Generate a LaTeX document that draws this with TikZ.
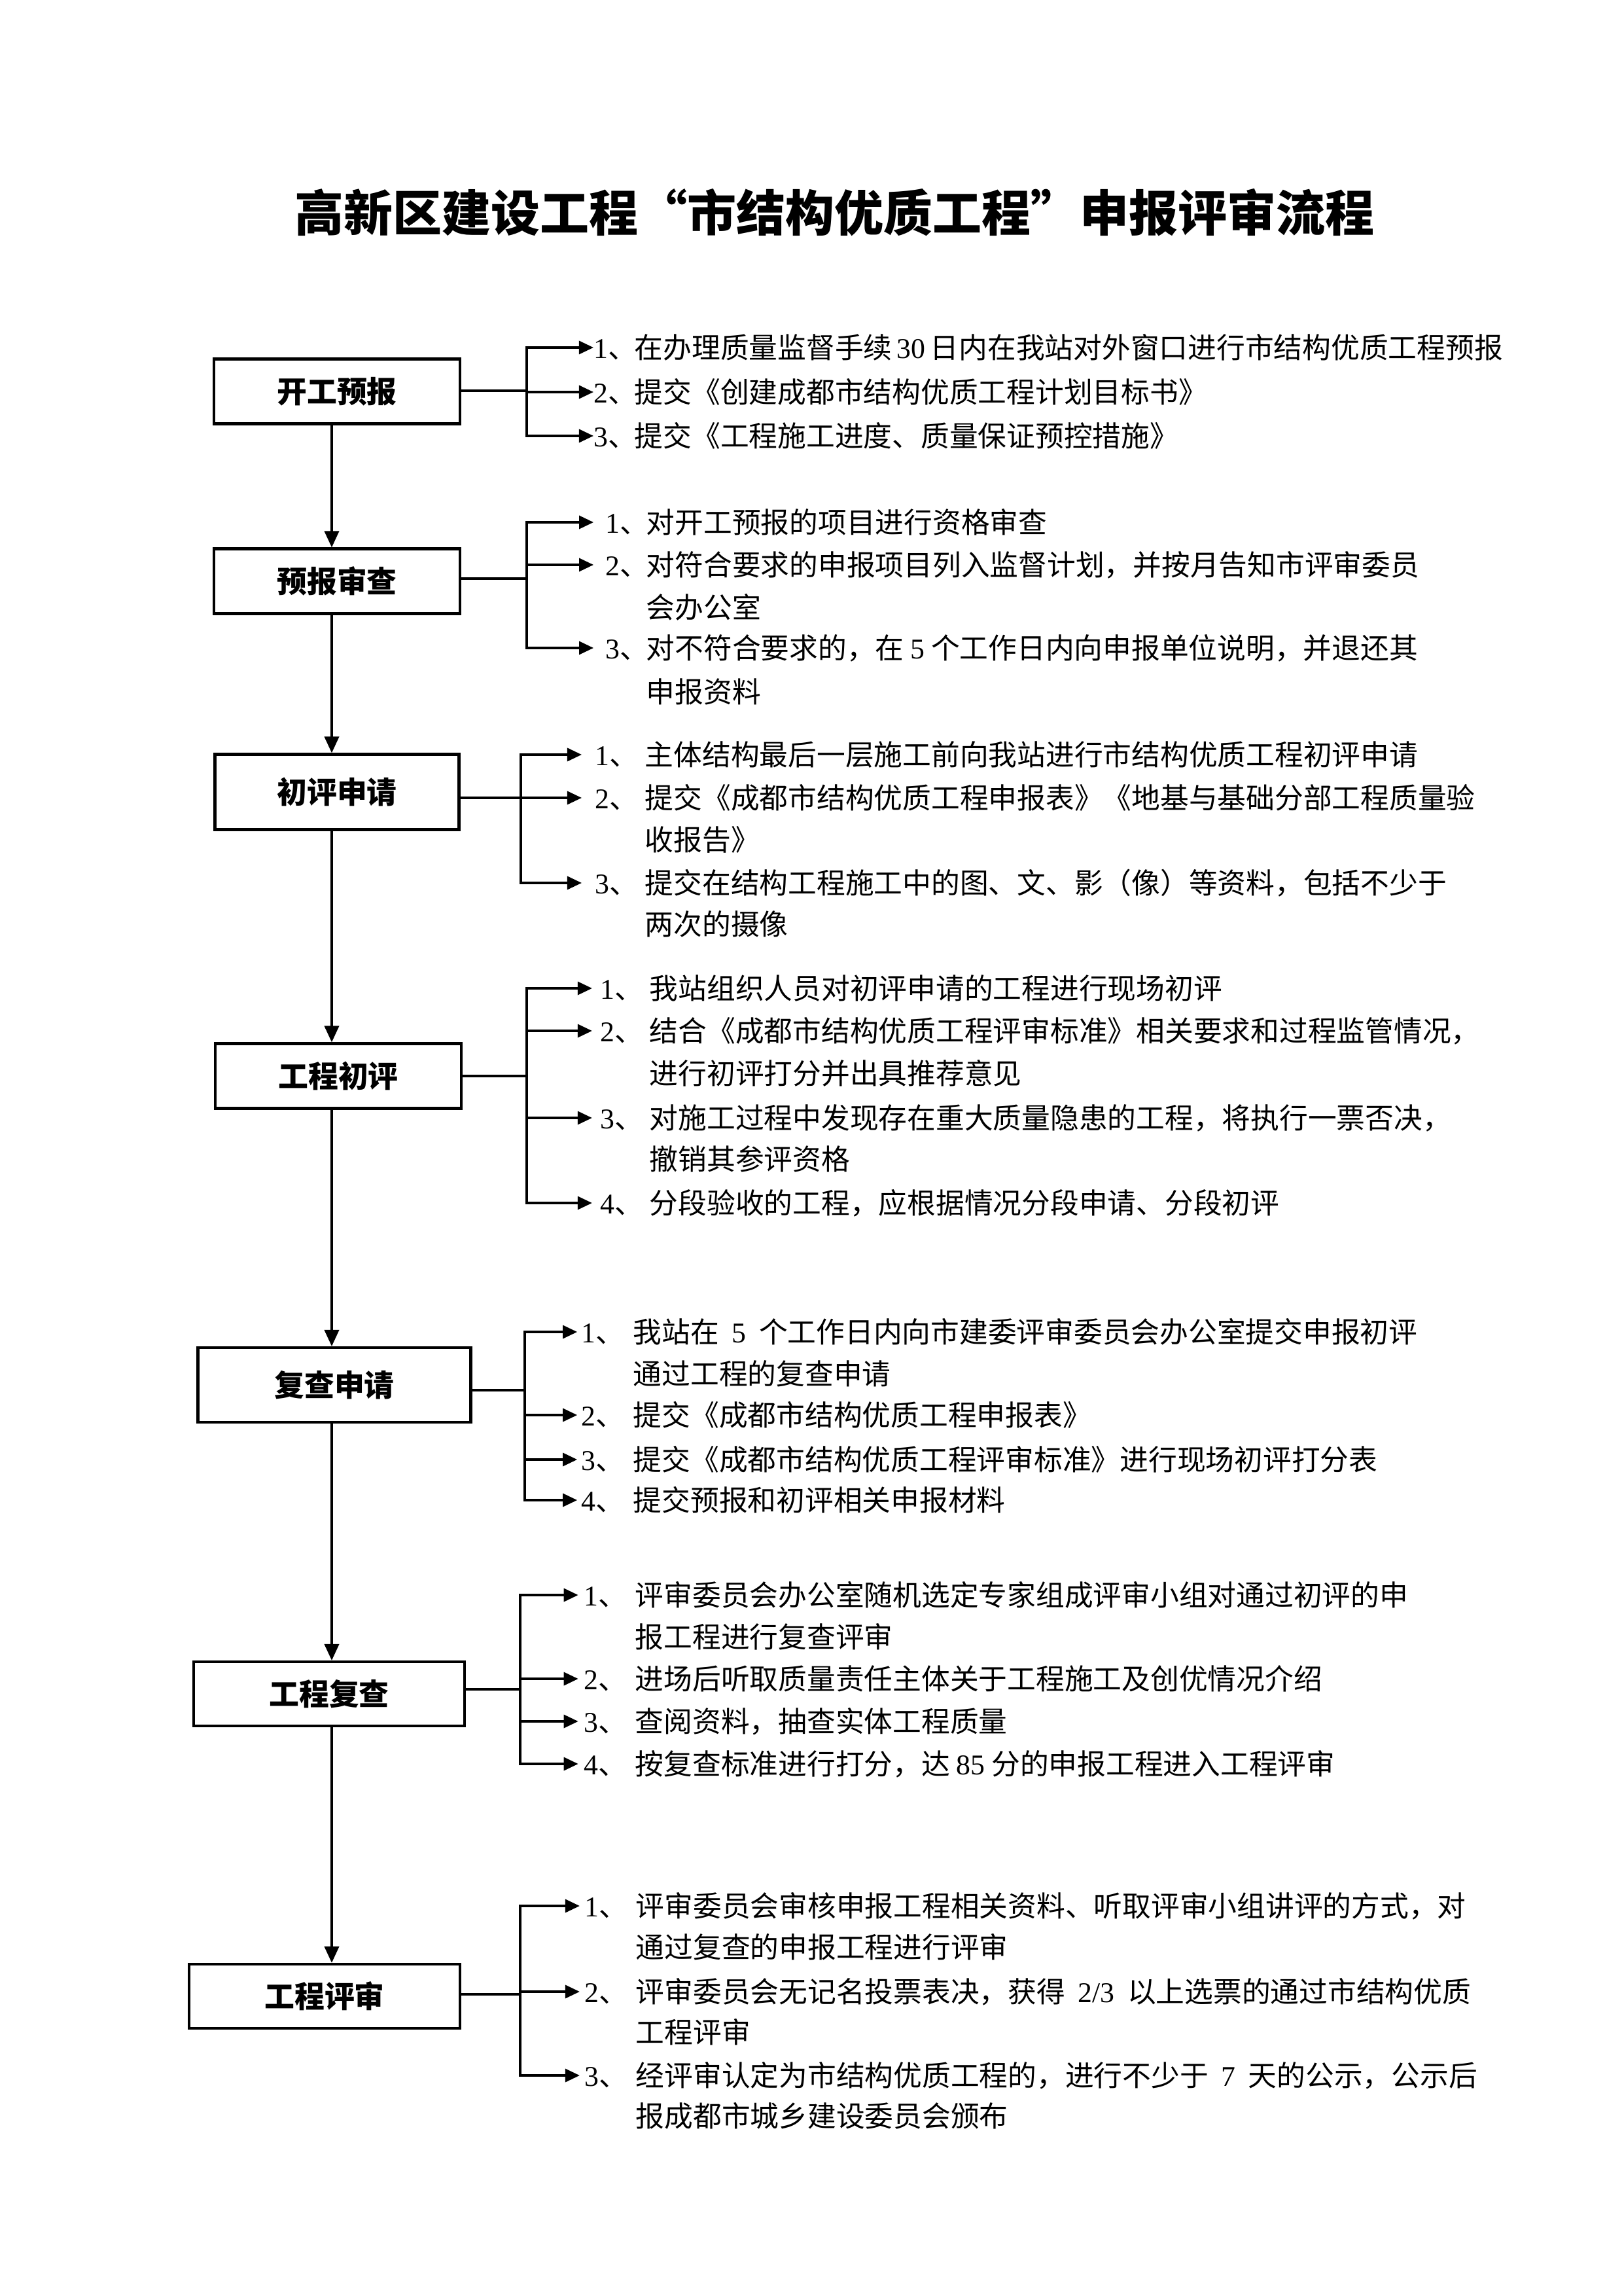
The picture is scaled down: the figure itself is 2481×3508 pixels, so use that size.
\documentclass[tikz,border=0pt]{standalone}
\usepackage{fontspec}
\setmainfont{Noto Sans CJK SC}
\newfontfamily\lf{Liberation Serif}
\newcommand\latn[1]{{\lf #1}}
\usetikzlibrary{arrows.meta}
\begin{document}
\begin{tikzpicture}[x=0.24pt,y=-0.24pt,
  box/.style={draw, line width=1pt, inner sep=0, font=\fontsize{11pt}{13pt}\selectfont\bfseries},
  ln/.style={line width=0.85pt},
  harr/.style={ln, -{Triangle[length=5.3pt,width=4.8pt]}},
  varr/.style={ln, -{Triangle[length=6pt,width=5.3pt]}},
  item/.style={inner sep=0, anchor=west, text height=9.2pt, text depth=1.3pt, font=\fontsize{10.5pt}{12pt}\selectfont},
  ttl/.style={inner sep=0, font=\fontsize{18pt}{20pt}\selectfont\bfseries}]
\useasboundingbox (0,0) rectangle (2481,3508);

\node[ttl] (title) at (1275,325) {高新区建设工程“市结构优质工程”申报评审流程};

% boxes
\node[box, minimum width=376*0.24pt, minimum height=99*0.24pt] (b1) at (515,598) {开工预报};
\node[box, minimum width=376*0.24pt, minimum height=99*0.24pt] (b2) at (515,888) {预报审查};
\node[box, minimum width=373*0.24pt, minimum height=115*0.24pt] (b3) at (515,1210) {初评申请};
\node[box, minimum width=376*0.24pt, minimum height=99*0.24pt] (b4) at (517,1644) {工程初评};
\node[box, minimum width=417*0.24pt, minimum height=114*0.24pt] (b5) at (511,2116) {复查申请};
\node[box, minimum width=414*0.24pt, minimum height=98*0.24pt] (b6) at (503,2588) {工程复查};
\node[box, minimum width=414*0.24pt, minimum height=98*0.24pt] (b7) at (496,3050) {工程评审};

% spine
\coordinate (spine) at (507,0);
\draw[varr] (b1.south -| spine) -- (b2.north -| spine);
\draw[varr] (b2.south -| spine) -- (b3.north -| spine);
\draw[varr] (b3.south -| spine) -- (b4.north -| spine);
\draw[varr] (b4.south -| spine) -- (b5.north -| spine);
\draw[varr] (b5.south -| spine) -- (b6.north -| spine);
\draw[varr] (b6.south -| spine) -- (b7.north -| spine);

% ---------- group 1
\coordinate (j1) at (805,597);
\draw[ln] (b1.east |- j1) -- (j1);
\node[item] (n11) at (907,531) {\latn{1}、};
\node[item] (t11) at (969,531) {在办理质量监督手续\,\latn{30}\,日内在我站对外窗口进行市结构优质工程预报};
\node[item] (n12) at (907,599) {\latn{2}、};
\node[item] (t12) at (969,599) {提交《创建成都市结构优质工程计划目标书》};
\node[item] (n13) at (907,666) {\latn{3}、};
\node[item] (t13) at (969,666) {提交《工程施工进度、质量保证预控措施》};
\foreach \k in {1,2,3} \draw[harr] (j1) |- (n1\k.west);

% ---------- group 2
\coordinate (j2) at (805,884);
\draw[ln] (b2.east |- j2) -- (j2);
\node[item] (n21) at (925,798) {\latn{1}、};
\node[item] (t21) at (987,798) {对开工预报的项目进行资格审查};
\node[item] (n22) at (925,863) {\latn{2}、};
\node[item] (t22) at (987,863) {对符合要求的申报项目列入监督计划，并按月告知市评审委员};
\node[item] (t22b) at (987,928) {会办公室};
\node[item] (n23) at (925,990) {\latn{3}、};
\node[item] (t23) at (987,990) {对不符合要求的，在 \latn{5} 个工作日内向申报单位说明，并退还其};
\node[item] (t23b) at (987,1057) {申报资料};
\foreach \k in {1,2,3} \draw[harr, shorten >=4.3pt] (j2) |- (n2\k.west);

% ---------- group 3
\coordinate (j3) at (796,1219);
\draw[ln] (b3.east |- j3) -- (j3);
\node[item] (n31) at (909,1153) {\latn{1}、};
\node[item] (t31) at (985,1153) {主体结构最后一层施工前向我站进行市结构优质工程初评申请};
\node[item] (n32) at (909,1219) {\latn{2}、};
\node[item] (t32) at (985,1219) {提交《成都市结构优质工程申报表》《地基与基础分部工程质量验};
\node[item] (t32b) at (985,1283) {收报告》};
\node[item] (n33) at (909,1349) {\latn{3}、};
\node[item] (t33) at (985,1349) {提交在结构工程施工中的图、文、影（像）等资料，包括不少于};
\node[item] (t33b) at (985,1412) {两次的摄像};
\foreach \k in {1,2,3} \draw[harr, shorten >=4.8pt] (j3) |- (n3\k.west);

% ---------- group 4
\coordinate (j4) at (805,1644);
\draw[ln] (b4.east |- j4) -- (j4);
\node[item] (n41) at (917,1510) {\latn{1}、};
\node[item] (t41) at (992,1510) {我站组织人员对初评申请的工程进行现场初评};
\node[item] (n42) at (917,1575) {\latn{2}、};
\node[item] (t42) at (992,1575) {结合《成都市结构优质工程评审标准》相关要求和过程监管情况，};
\node[item] (t42b) at (992,1640) {进行初评打分并出具推荐意见};
\node[item] (n43) at (917,1708) {\latn{3}、};
\node[item] (t43) at (992,1708) {对施工过程中发现存在重大质量隐患的工程，将执行一票否决，};
\node[item] (t43b) at (992,1771) {撤销其参评资格};
\node[item] (n44) at (917,1838) {\latn{4}、};
\node[item] (t44) at (992,1838) {分段验收的工程，应根据情况分段申请、分段初评};
\foreach \k in {1,2,3,4} \draw[harr, shorten >=2.9pt] (j4) |- (n4\k.west);

% ---------- group 5
\coordinate (j5) at (802,2124);
\draw[ln] (b5.east |- j5) -- (j5);
\node[item] (n51) at (888,2035) {\latn{1}、};
\node[item] (t51) at (967,2035) {我站在\ \ \latn{5}\ \ 个工作日内向市建委评审委员会办公室提交申报初评};
\node[item] (t51b) at (967,2099) {通过工程的复查申请};
\node[item] (n52) at (888,2162) {\latn{2}、};
\node[item] (t52) at (967,2162) {提交《成都市结构优质工程申报表》};
\node[item] (n53) at (888,2230) {\latn{3}、};
\node[item] (t53) at (967,2230) {提交《成都市结构优质工程评审标准》进行现场初评打分表};
\node[item] (n54) at (888,2292) {\latn{4}、};
\node[item] (t54) at (967,2292) {提交预报和初评相关申报材料};
\foreach \k in {1,2,3,4} \draw[harr, shorten >=1.4pt] (j5) |- (n5\k.west);

% ---------- group 6
\coordinate (j6) at (795,2581);
\draw[ln] (b6.east |- j6) -- (j6);
\node[item] (n61) at (892,2437) {\latn{1}、};
\node[item] (t61) at (970,2437) {评审委员会办公室随机选定专家组成评审小组对通过初评的申};
\node[item] (t61b) at (970,2501) {报工程进行复查评审};
\node[item] (n62) at (892,2565) {\latn{2}、};
\node[item] (t62) at (970,2565) {进场后听取质量责任主体关于工程施工及创优情况介绍};
\node[item] (n63) at (892,2630) {\latn{3}、};
\node[item] (t63) at (970,2630) {查阅资料，抽查实体工程质量};
\node[item] (n64) at (892,2695) {\latn{4}、};
\node[item] (t64) at (970,2695) {按复查标准进行打分，达 \latn{85} 分的申报工程进入工程评审};
\foreach \k in {1,2,3,4} \draw[harr, shorten >=2pt] (j6) |- (n6\k.west);

% ---------- group 7
\coordinate (j7) at (795,3047);
\draw[ln] (b7.east |- j7) -- (j7);
\node[item] (n71) at (893,2912) {\latn{1}、};
\node[item] (t71) at (971,2912) {评审委员会审核申报工程相关资料、听取评审小组讲评的方式，对};
\node[item] (t71b) at (971,2975) {通过复查的申报工程进行评审};
\node[item] (n72) at (893,3043) {\latn{2}、};
\node[item] (t72) at (971,3043) {评审委员会无记名投票表决，获得\ \ \latn{2/3}\ \ 以上选票的通过市结构优质};
\node[item] (t72b) at (971,3105) {工程评审};
\node[item] (n73) at (893,3171) {\latn{3}、};
\node[item] (t73) at (971,3171) {经评审认定为市结构优质工程的，进行不少于\ \ \latn{7}\ \ 天的公示，公示后};
\node[item] (t73b) at (971,3233) {报成都市城乡建设委员会颁布};
\foreach \k in {1,2,3} \draw[harr, shorten >=1.7pt] (j7) |- (n7\k.west);
\end{tikzpicture}
\end{document}
